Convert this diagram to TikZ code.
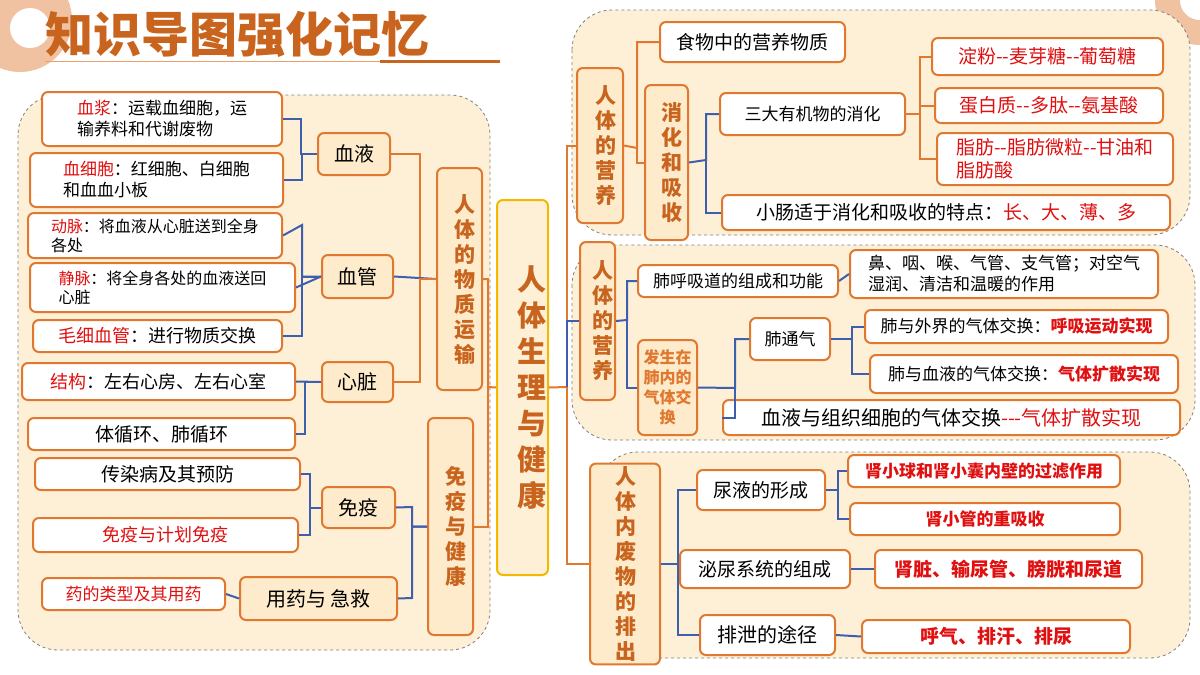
\documentclass[tikz,border=0pt]{standalone}
\usepackage{fontspec}
\setmainfont{Noto Sans CJK SC}
\XeTeXlinebreaklocale "zh"
\XeTeXlinebreakskip=0pt plus 1pt
\usetikzlibrary{calc}
\definecolor{org}{HTML}{E0782F}
\definecolor{dorg}{HTML}{C8641E}
\definecolor{peach}{HTML}{FDEBCB}
\definecolor{pbg}{HTML}{FEF0D6}
\definecolor{yel}{HTML}{F5B800}
\definecolor{lnk}{HTML}{3D5FAE}
\definecolor{rd}{HTML}{E01010}
\tikzset{
  box/.style={draw=org, line width=2pt, rounded corners=6pt, fill=white, inner sep=3pt, font=\fontsize{17}{21}\selectfont},
  cat/.style={box, fill=peach},
  vcat/.style={box, fill=peach, text=dorg, font=\fontsize{21}{25}\selectfont\bfseries, text width=1em, align=center},
  panel/.style={draw=gray, dashed, line width=.8pt, fill=pbg, rounded corners=40pt},
  bl/.style={lnk, line width=2pt},
  ol/.style={org, line width=2pt}
}
\newcommand\bx[7]{\node[#6, minimum width={(#4-#2)*1pt}, minimum height={(#5-#3)*1pt}] (#1) at ({(#2+#4)/2},{(#3+#5)/2}) {#7};}
\newcommand\rt[1]{\textcolor{rd}{#1}}
\newcommand\dd{{-}{-}}
\begin{document}
\begin{tikzpicture}[x=1pt, y=-1pt]
\useasboundingbox (0,0) rectangle (1200,675);
\fill[white] (0,0) rectangle (1200,675);

% corner decoration
\fill[org!45] (20,20) circle (52);
\fill[white] (30,28) circle (20);
\fill[org!45] (1200,0) circle (45);
\fill[white] (1200,0) circle (20);

% title
\node[anchor=west, text=dorg, font=\fontsize{48}{52}\selectfont\bfseries] (title) at (42,34) {知识导图强化记忆};
\draw[org!70, line width=1pt] (45,61) -- (500,61);
\draw[dorg, line width=3pt] (380,61) -- (500,61);

% panels
\draw[panel] (18,95) rectangle (490,650);
\draw[panel] (572,10) rectangle (1190,235);
\draw[panel] (572,245) rectangle (1195,440);
\draw[panel] (598,452) rectangle (1190,658);

% center
\bx{center}{497}{200}{548}{575}{box, draw=yel, fill=pbg, text=dorg, font=\fontsize{29}{36}\selectfont\bfseries, text width=1em, align=center}{人体生理与健康}

% left leaves
\bx{plasma}{42}{92}{282}{146}{box, align=left}{\rt{血浆}：运载血细胞，运\\输养料和代谢废物}
\bx{cells}{30}{153}{283}{207}{box, align=left}{\rt{血细胞}：红细胞、白细胞\\和血血小板}
\bx{artery}{28}{213}{282}{258}{box, align=left, font=\fontsize{16}{19}\selectfont}{\rt{动脉}：将血液从心脏送到全身\\各处}
\bx{vein}{30}{263}{295}{312}{box, align=left, font=\fontsize{16}{19}\selectfont}{\rt{静脉}：将全身各处的血液送回\\心脏}
\bx{capil}{33}{320}{282}{352}{box, font=\fontsize{18}{22}\selectfont}{\rt{毛细血管}：进行物质交换}
\bx{struct}{22}{363}{295}{400}{box, font=\fontsize{18}{22}\selectfont}{\rt{结构}：左右心房、左右心室}
\bx{circ}{28}{418}{295}{450}{box, font=\fontsize{19}{22}\selectfont}{体循环、肺循环}
\bx{infect}{35}{458}{300}{490}{box, font=\fontsize{19}{22}\selectfont}{传染病及其预防}
\bx{vacc}{33}{518}{298}{552}{box, text=rd, font=\fontsize{18}{22}\selectfont}{免疫与计划免疫}
\bx{drug}{42}{578}{225}{610}{box, text=rd, font=\fontsize{17}{22}\selectfont}{药的类型及其用药}

% left middle
\bx{blood}{318}{133}{390}{175}{cat, font=\fontsize{20}{23}\selectfont}{血液}
\bx{vessel}{322}{255}{393}{298}{cat, font=\fontsize{20}{23}\selectfont}{血管}
\bx{heart}{322}{362}{393}{402}{cat, font=\fontsize{20}{23}\selectfont}{心脏}
\bx{immune}{322}{487}{395}{528}{cat, font=\fontsize{20}{23}\selectfont}{免疫}
\bx{aid}{240}{577}{397}{620}{cat, font=\fontsize{20}{23}\selectfont}{用药与 急救}
\bx{trans}{437}{168}{482}{390}{vcat}{人体的物质运输}
\bx{health}{428}{418}{473}{635}{vcat}{免疫与健康}

% right top
\bx{nutr}{577}{68}{623}{223}{vcat}{人体的营养}
\bx{food}{660}{22}{845}{62}{box, font=\fontsize{19}{22}\selectfont}{食物中的营养物质}
\bx{digest}{645}{85}{688}{240}{vcat}{消化和吸收}
\bx{three}{720}{93}{905}{135}{box}{三大有机物的消化}
\bx{starch}{932}{38}{1163}{75}{box, text=rd, font=\fontsize{19}{22}\selectfont}{淀粉\dd 麦芽糖\dd 葡萄糖}
\bx{protein}{935}{88}{1163}{123}{box, text=rd, font=\fontsize{19}{22}\selectfont}{蛋白质\dd 多肽\dd 氨基酸}
\bx{fat}{937}{133}{1173}{185}{box, text=rd, align=left, font=\fontsize{19}{23}\selectfont}{脂肪\dd 脂肪微粒\dd 甘油和\\脂肪酸}
\bx{intest}{722}{195}{1170}{230}{box, font=\fontsize{19}{22}\selectfont}{小肠适于消化和吸收的特点：\rt{长、大、薄、多}}

% right middle
\bx{resp}{580}{242}{615}{400}{vcat}{人体的营养}
\bx{tract}{638}{265}{838}{297}{box}{肺呼吸道的组成和功能}
\bx{tinfo}{850}{250}{1158}{298}{box, align=left}{鼻、咽、喉、气管、支气管；对空气\\湿润、清洁和温暖的作用}
\bx{lungex}{638}{340}{697}{435}{cat, text=org, font=\fontsize{16}{20}\selectfont\bfseries, align=center, inner sep=1pt}{发生在\\肺内的\\气体交\\换}
\bx{vent}{750}{318}{830}{360}{box}{肺通气}
\bx{outer}{865}{310}{1168}{343}{box}{肺与外界的气体交换：\textcolor{rd}{\bfseries 呼吸运动实现}}
\bx{lblood}{870}{355}{1178}{393}{box}{肺与血液的气体交换：\textcolor{rd}{\bfseries 气体扩散实现}}
\bx{tissue}{723}{400}{1180}{435}{box, font=\fontsize{20}{23}\selectfont}{血液与组织细胞的气体交换\rt{{-}{-}{-}气体扩散实现}}

% right bottom
\bx{excr}{590}{498}{660}{630}{vcat, text width=2em}{人体内废物的排出}
\bx{urine}{697}{470}{825}{510}{box, font=\fontsize{19}{22}\selectfont}{尿液的形成}
\bx{glom}{848}{455}{1120}{487}{box, text=rd, font=\fontsize{17}{20}\selectfont\bfseries}{肾小球和肾小囊内壁的过滤作用}
\bx{tubule}{850}{503}{1120}{535}{box, text=rd, font=\fontsize{17}{20}\selectfont\bfseries}{肾小管的重吸收}
\bx{system}{680}{550}{850}{588}{box, font=\fontsize{19}{22}\selectfont}{泌尿系统的组成}
\bx{organs}{875}{550}{1142}{588}{box, text=rd, font=\fontsize{19}{22}\selectfont\bfseries}{肾脏、输尿管、膀胱和尿道}
\bx{path}{700}{615}{835}{655}{box, font=\fontsize{20}{23}\selectfont}{排泄的途径}
\bx{routes}{862}{620}{1130}{653}{box, text=rd, font=\fontsize{19}{22}\selectfont\bfseries}{呼气、排汗、排尿}

% left links
\draw[bl] (plasma.east) -- ++(18,0) |- (blood.west);
\draw[bl] (cells.east) -- ++(18,0) |- (blood.west);
\draw[bl] (artery.east) -- (302,225) |- (vessel.west);
\draw[bl] (vein.east) -- (vessel.west);
\draw[bl] (capil.east) -- (302,336) |- (vessel.west);
\draw[bl] (struct.east) -- (heart.west);
\draw[bl] (circ.east) -- (305,434) |- (heart.west);
\draw[bl] (infect.east) -- (310,474) |- (immune.west);
\draw[bl] (vacc.east) -- (310,535) |- (immune.west);
\draw[bl] (drug.east) -- (aid.west);
\draw[ol] (blood.east) -- (420,154) |- (trans.west);
\draw[bl] (vessel.east) -- (trans.west);
\draw[ol] (heart.east) -- (420,382) |- (trans.west);
\draw[bl] (immune.east) -- (412,507) |- (health.west);
\draw[bl] (aid.east) -- (412,598) |- (health.west);
\draw[ol] (center.west) -- (488,387) |- (trans.east);
\draw[ol] (488,387) |- (health.east);

% right links
\coordinate (spine) at (567,387);
\draw[ol] (center.east) -- (spine);
\draw[ol] (spine) |- (nutr.west);
\draw[bl] (spine) |- (resp.west);
\draw[ol] (spine) |- (excr.west);
\draw[ol] (nutr.east) -- (637,148) |- (food.west);
\draw[ol] (637,148) |- (digest.west);
\draw[bl] (digest.east) -- (706,160) |- (three.west);
\draw[bl] (706,160) |- (intest.west);
\draw[ol] (three.east) -- (920,114) |- (starch.west);
\draw[ol] (920,114) |- (protein.west);
\draw[ol] (920,114) |- (fat.west);
\draw[bl] (resp.east) -- (627,320) |- (tract.west);
\draw[bl] (627,320) |- (lungex.west);
\draw[bl] (tract.east) -- (tinfo.west);
\draw[bl] (lungex.east) -- (735,388) |- (vent.west);
\draw[bl] (735,388) |- (tissue.west);
\draw[bl] (vent.east) -- (852,339) |- (outer.west);
\draw[bl] (852,339) |- (lblood.west);
\draw[bl] (excr.east) -- (678,564) |- (urine.west);
\draw[bl] (678,564) |- (system.west);
\draw[bl] (678,564) |- (path.west);
\draw[bl] (urine.east) -- (838,490) |- (glom.west);
\draw[bl] (838,490) |- (tubule.west);
\draw[bl] (system.east) -- (organs.west);
\draw[bl] (path.east) -- (routes.west);
\end{tikzpicture}
\end{document}
